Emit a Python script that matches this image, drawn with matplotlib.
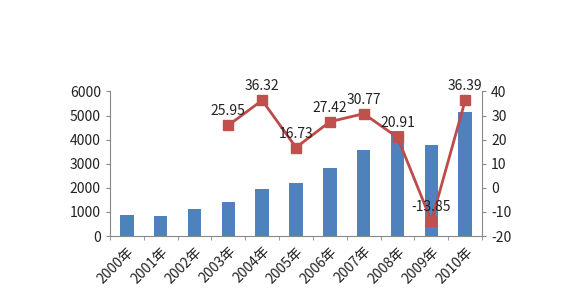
import matplotlib
matplotlib.use('Agg')
import matplotlib.pyplot as plt
import numpy as np

plt.rcParams['font.family'] = ['Noto Sans CJK SC', 'DejaVu Sans']
plt.rcParams['axes.unicode_minus'] = False

years = ['2000年', '2001年', '2002年', '2003年', '2004年', '2005年',
         '2006年', '2007年', '2008年', '2009年', '2010年']
amounts = [870, 840, 1120, 1400, 1960, 2200, 2830, 3590, 4350, 3780, 5150]
growth = [np.nan, np.nan, np.nan, 25.95, 36.32, 16.73, 27.42, 30.77, 20.91, -13.85, 36.39]

fig = plt.figure(figsize=(5.72, 2.95), dpi=100)
ax = fig.add_axes([0.192, 0.2, 0.651, 0.49])
x = np.arange(len(years))
ax.bar(x, amounts, width=0.4, color='#4F81BD', zorder=2)
ax.set_xlim(-0.5, len(years) - 0.5)
ax.set_ylim(0, 6000)
ax.set_yticks(range(0, 6001, 1000))
ax.set_xticks(x)
ax.set_xticklabels(years, rotation=45, ha='right', rotation_mode='anchor')
# excel style: ticks between categories
ax.set_xticks(np.arange(len(years) + 1) - 0.5, minor=True)
ax.tick_params(axis='x', which='major', length=0, pad=6)
ax.tick_params(axis='x', which='minor', length=3, color='#888888')

ax2 = ax.twinx()
ax2.plot(x, growth, color='#BE4B48', lw=2, marker='s', ms=7,
         markerfacecolor='#C0504D', markeredgecolor='#C0504D', zorder=3)
ax2.set_ylim(-20, 40)
ax2.set_yticks(range(-20, 41, 10))
for xi, g in zip(x, growth):
    if not np.isnan(g):
        ax2.annotate(f'{g:.2f}', (xi, g), xytext=(0, 5), textcoords='offset points',
                     ha='center', va='bottom', fontsize=10, color='#222222')

for a in (ax, ax2):
    a.spines['top'].set_visible(False)
    for s in ('left', 'right', 'bottom'):
        a.spines[s].set_color('#888888')
    a.tick_params(axis='y', labelsize=10, colors='#222222', length=3, color='#888888')
ax.tick_params(axis='x', labelsize=10, labelcolor='#222222')
ax.spines['right'].set_visible(False)
ax2.spines['left'].set_visible(False)
ax2.spines['bottom'].set_visible(False)

fig.savefig('out.png', dpi=100)
